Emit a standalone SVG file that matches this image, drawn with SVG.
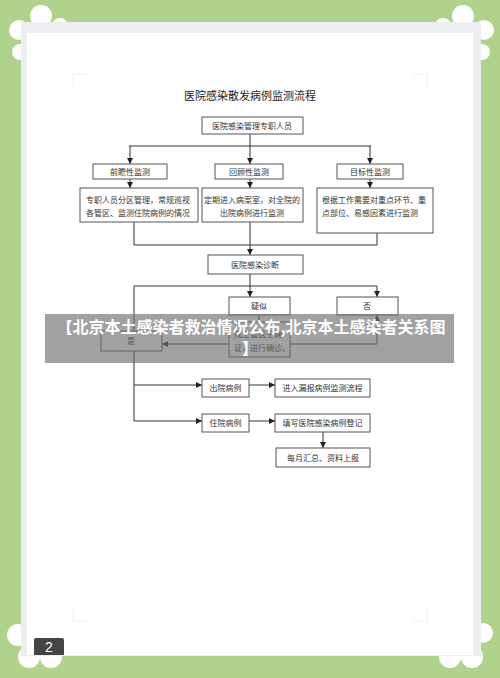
<svg xmlns="http://www.w3.org/2000/svg" width="500" height="678" viewBox="0 0 500 678">
<defs>
<marker id="ah" viewBox="0 0 6 6" refX="6" refY="3" markerWidth="6" markerHeight="6" markerUnits="userSpaceOnUse" orient="auto">
<path d="M0,0 L6,3 L0,6 z" fill="#222"/>
</marker>
</defs>
<style>
.bx{fill:#fff;stroke:#555;stroke-width:1}
.t{font-family:"Noto Sans CJK SC","Noto Sans",sans-serif;font-size:8px;fill:#333}
.c{text-anchor:middle}
.ln{fill:none;stroke:#333;stroke-width:1}
.ar{fill:none;stroke:#333;stroke-width:1;marker-end:url(#ah)}
.bump{fill:#fff}
.crop{fill:none;stroke:#f0f0f0;stroke-width:1}
</style>
<rect width="500" height="678" fill="#afd38d"/>
<g id="scallops">
<circle class="bump" cx="41" cy="16" r="11"/>
<circle class="bump" cx="19" cy="30" r="10"/>
<circle class="bump" cx="20" cy="52" r="8"/>
<circle class="bump" cx="60" cy="26" r="8"/>
<circle class="bump" cx="463" cy="16" r="11"/>
<circle class="bump" cx="484" cy="30" r="10"/>
<circle class="bump" cx="482" cy="52" r="8"/>
<circle class="bump" cx="443" cy="26" r="8"/>
<circle class="bump" cx="18" cy="635" r="11"/>
<circle class="bump" cx="29" cy="657" r="11"/>
<circle class="bump" cx="51" cy="657" r="11"/>
<circle class="bump" cx="483" cy="633" r="10"/>
<circle class="bump" cx="450" cy="657" r="11"/>
<circle class="bump" cx="472" cy="657" r="11"/>
</g>
<g id="page">
<rect x="21" y="22" width="460" height="634" fill="#eceef2"/>
<rect x="27" y="33" width="446" height="622" fill="#fff"/>
<path class="crop" d="M73,87 V74 H87 M413,74 H427 V87 M73,608 V621 H87 M427,608 V621 H413"/>
</g>
<text class="c" x="250" y="100" font-family="Noto Sans CJK SC, sans-serif" font-size="11" fill="#222">医院感染散发病例监测流程</text>
<g id="connectors">
<path class="ln" d="M250,134 V146 M129,146 H371"/>
<path class="ar" d="M130,146 V164"/>
<path class="ar" d="M250,146 V164"/>
<path class="ar" d="M370,146 V164"/>
<path class="ar" d="M130,179 V188"/>
<path class="ar" d="M250,179 V188"/>
<path class="ar" d="M370,179 V188"/>
<path class="ln" d="M134,222 V245 H377 V233"/>
<path class="ar" d="M250,222 V255"/>
<path class="ar" d="M250,274 V297"/>
<path class="ln" d="M134,286 H377"/>
<path class="ar" d="M377,286 V297"/>
<path class="ln" d="M134,286 V331"/>
<path class="ln" d="M259,315 V322"/>
<path class="ar" d="M229,344 H162"/>
<path class="ar" d="M290,344 H377 V315"/>
<path class="ln" d="M134,351 V421"/>
<path class="ar" d="M134,385 H202"/>
<path class="ar" d="M134,421 H202"/>
<path class="ar" d="M249,385 H275"/>
<path class="ar" d="M249,421 H275"/>
<path class="ar" d="M323,432 V448"/>
</g>
<g id="n_staff"><rect class="bx" x="202" y="117" width="101" height="17"/><text class="t c" x="252" y="128.5">医院感染管理专职人员</text></g>
<g id="n_prospective"><rect class="bx" x="93" y="164" width="74" height="15"/><text class="t c" x="130" y="174.5">前瞻性监测</text></g>
<g id="n_retro"><rect class="bx" x="215" y="164" width="68" height="15"/><text class="t c" x="249" y="174.5">回顾性监测</text></g>
<g id="n_target"><rect class="bx" x="337" y="164" width="66" height="15"/><text class="t c" x="370" y="174.5">目标性监测</text></g>
<g id="n_a"><rect class="bx" x="80" y="188" width="118" height="34"/><text class="t" x="86" y="203">专职人员分区管理，常规巡视</text><text class="t" x="86" y="216">各管区、监测住院病例的情况</text></g>
<g id="n_b"><rect class="bx" x="202" y="188" width="101" height="34"/><text class="t c" x="252" y="203">定期进入病案室，对全院的</text><text class="t c" x="252" y="216">出院病例进行监测</text></g>
<g id="n_c"><rect class="bx" x="317" y="188" width="116" height="45"/><text class="t" x="322" y="203">根据工作需要对重点环节、重</text><text class="t" x="322" y="216">点部位、易感因素进行监测</text></g>
<g id="n_diag"><rect class="bx" x="208" y="255" width="95" height="19"/><text class="t c" x="255" y="267.5">医院感染诊断</text></g>
<g id="n_suspect"><rect class="bx" x="229" y="297" width="61" height="18"/><text class="t c" x="259" y="309">疑似</text></g>
<g id="n_no"><rect class="bx" x="337" y="297" width="61" height="18"/><text class="t c" x="367" y="309">否</text></g>
<g id="n_yes"><rect class="bx" x="101" y="331" width="61" height="20"/><text class="t c" x="131" y="344">是</text></g>
<g id="n_confirm"><rect class="bx" x="229" y="322" width="61" height="35"/><text class="t" x="234" y="337">找主管医生确</text><text class="t" x="234" y="351">证，进行确诊。</text></g>
<g id="n_out"><rect class="bx" x="202" y="379" width="47" height="18"/><text class="t c" x="225.5" y="391">出院病例</text></g>
<g id="n_outflow"><rect class="bx" x="275" y="379" width="95" height="18"/><text class="t c" x="322.5" y="391">进入漏报病例监测流程</text></g>
<g id="n_in"><rect class="bx" x="202" y="414" width="47" height="18"/><text class="t c" x="225.5" y="426">住院病例</text></g>
<g id="n_reg"><rect class="bx" x="275" y="414" width="95" height="18"/><text class="t c" x="322.5" y="426">填写医院感染病例登记</text></g>
<g id="n_month"><rect class="bx" x="276" y="448" width="94" height="19"/><text class="t c" x="323" y="461">每月汇总、资料上报</text></g>
<g id="banner">
<rect x="45" y="314" width="409" height="49" fill="#6f6f6f" fill-opacity="0.65"/>
<text x="251" y="333" text-anchor="middle" font-family="Noto Sans CJK SC, sans-serif" font-weight="bold" font-size="16" fill="#fff">【北京本土感染者救治情况公布,北京本土感染者关系图</text>
<text x="250" y="354" text-anchor="middle" font-family="Noto Sans CJK SC, sans-serif" font-weight="bold" font-size="16" fill="#fff">】</text>
</g>
<g id="pagenum">
<path d="M34,655 V640 Q34,638 36,638 H62 Q64,638 64,640 V655 z" fill="#444"/>
<text x="49" y="652" text-anchor="middle" font-family="Liberation Sans, sans-serif" font-size="14" fill="#fff">2</text>
</g>
</svg>
